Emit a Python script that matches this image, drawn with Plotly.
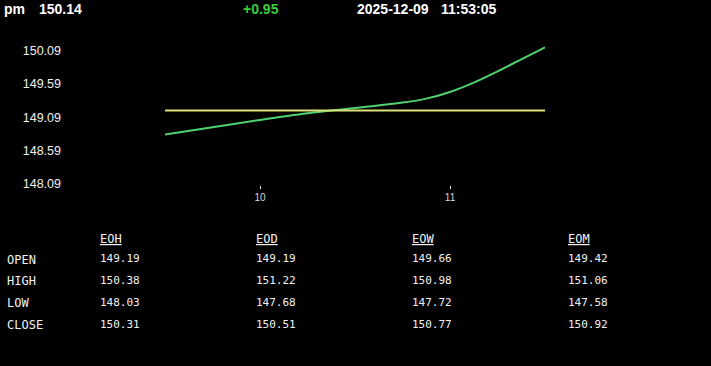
import plotly.graph_objects as go

# ---- data ----
symbol = "pm"
last_price = "150.14"
change = "+0.95"
date_str = "2025-12-09"
time_str = "11:53:05"

hours = [9.5, 9.75, 10.0, 10.25, 10.5, 10.75, 10.875, 11.0, 11.125, 11.25, 11.375, 11.5]
prices = [148.83, 148.94, 149.05, 149.15, 149.23, 149.31, 149.37, 149.47, 149.61, 149.78, 149.96, 150.14]
open_level = 149.19

y_ticks = [148.09, 148.59, 149.09, 149.59, 150.09]
x_ticks = [10, 11]

row_labels = ["OPEN", "HIGH", "LOW", "CLOSE"]
col_labels = ["EOH", "EOD", "EOW", "EOM"]
eoh = ["149.19", "150.38", "148.03", "150.31"]
eod = ["149.19", "151.22", "147.68", "150.51"]
eow = ["149.66", "150.98", "147.72", "150.77"]
eom = ["149.42", "151.06", "147.58", "150.92"]
columns = [eoh, eod, eow, eom]

# ---- layout geometry (pixels) ----
W, H = 711, 366
L, R, T, B = 165, 545, 40, 185


def px(x):
    return (x - L) / (R - L)


def py(y):
    return (B - y) / (B - T)


fig = go.Figure()
fig.add_trace(go.Scatter(x=hours, y=prices, mode="lines",
                         line=dict(color="#4fd16f", width=2, shape="spline", smoothing=1.0),
                         hoverinfo="skip"))
fig.add_trace(go.Scatter(x=[hours[0], hours[-1]], y=[open_level, open_level], mode="lines",
                         line=dict(color="#dde27a", width=2),
                         hoverinfo="skip"))

ann = []
hdr_font = dict(family="Liberation Sans, Arial", size=14, color="white")
for txt, x, col in [(symbol, 3, "white"), (last_price, 38, "white"), (change, 242, "#3ccc3c"),
                    (date_str, 356, "white"), (time_str, 440, "white")]:
    f = dict(hdr_font)
    f["color"] = col
    ann.append(dict(text="<b>%s</b>" % txt, x=px(x), y=py(9.5), xref="paper", yref="paper",
                    xanchor="left", yanchor="middle", showarrow=False, borderpad=0, font=f))

mono = "DejaVu Sans Mono, Liberation Mono, monospace"
row_y = [259.5, 281, 303, 325]
val_y = [258.5, 280, 302, 324]
col_x = [99, 255, 411, 567]
for lab, y in zip(row_labels, row_y):
    ann.append(dict(text=lab, x=px(6), y=py(y), xref="paper", yref="paper",
                    xanchor="left", yanchor="middle", showarrow=False, borderpad=0,
                    font=dict(family=mono, size=12, color="#f2f2f2")))
for c, x in zip(col_labels, col_x):
    ann.append(dict(text="<u>%s</u>" % c, x=px(x), y=py(238.5), xref="paper", yref="paper",
                    xanchor="left", yanchor="middle", showarrow=False, borderpad=0,
                    font=dict(family=mono, size=12, color="#f2f2f2")))
for vals, x in zip(columns, col_x):
    for v, y in zip(vals, val_y):
        ann.append(dict(text=v, x=px(x), y=py(y), xref="paper", yref="paper",
                        xanchor="left", yanchor="middle", showarrow=False, borderpad=0,
                        font=dict(family=mono, size=11, color="#f2f2f2")))

fig.update_layout(
    width=W, height=H,
    margin=dict(l=L, r=W - R, t=T, b=H - B, pad=0),
    paper_bgcolor="black", plot_bgcolor="black",
    showlegend=False,
    annotations=ann,
    xaxis=dict(range=[hours[0], hours[-1]], tickvals=x_ticks, ticktext=[str(v) for v in x_ticks],
               showgrid=False, zeroline=False, showline=False,
               ticks="outside", ticklen=3, tickcolor="#dddddd", tickwidth=1,
               tickfont=dict(family="Liberation Sans, Arial", size=10, color="#d8d8d8"),
               fixedrange=True),
    yaxis=dict(range=[148.073, 150.25], tickvals=y_ticks, ticktext=["%.2f" % v for v in y_ticks],
               showgrid=False, zeroline=False, showline=False, ticks="",
               ticklabelstandoff=103,
               tickfont=dict(family="Liberation Sans, Arial", size=12.5, color="#f0f0f0"),
               fixedrange=True),
)

fig.write_html("out.html", config={"displayModeBar": False})
